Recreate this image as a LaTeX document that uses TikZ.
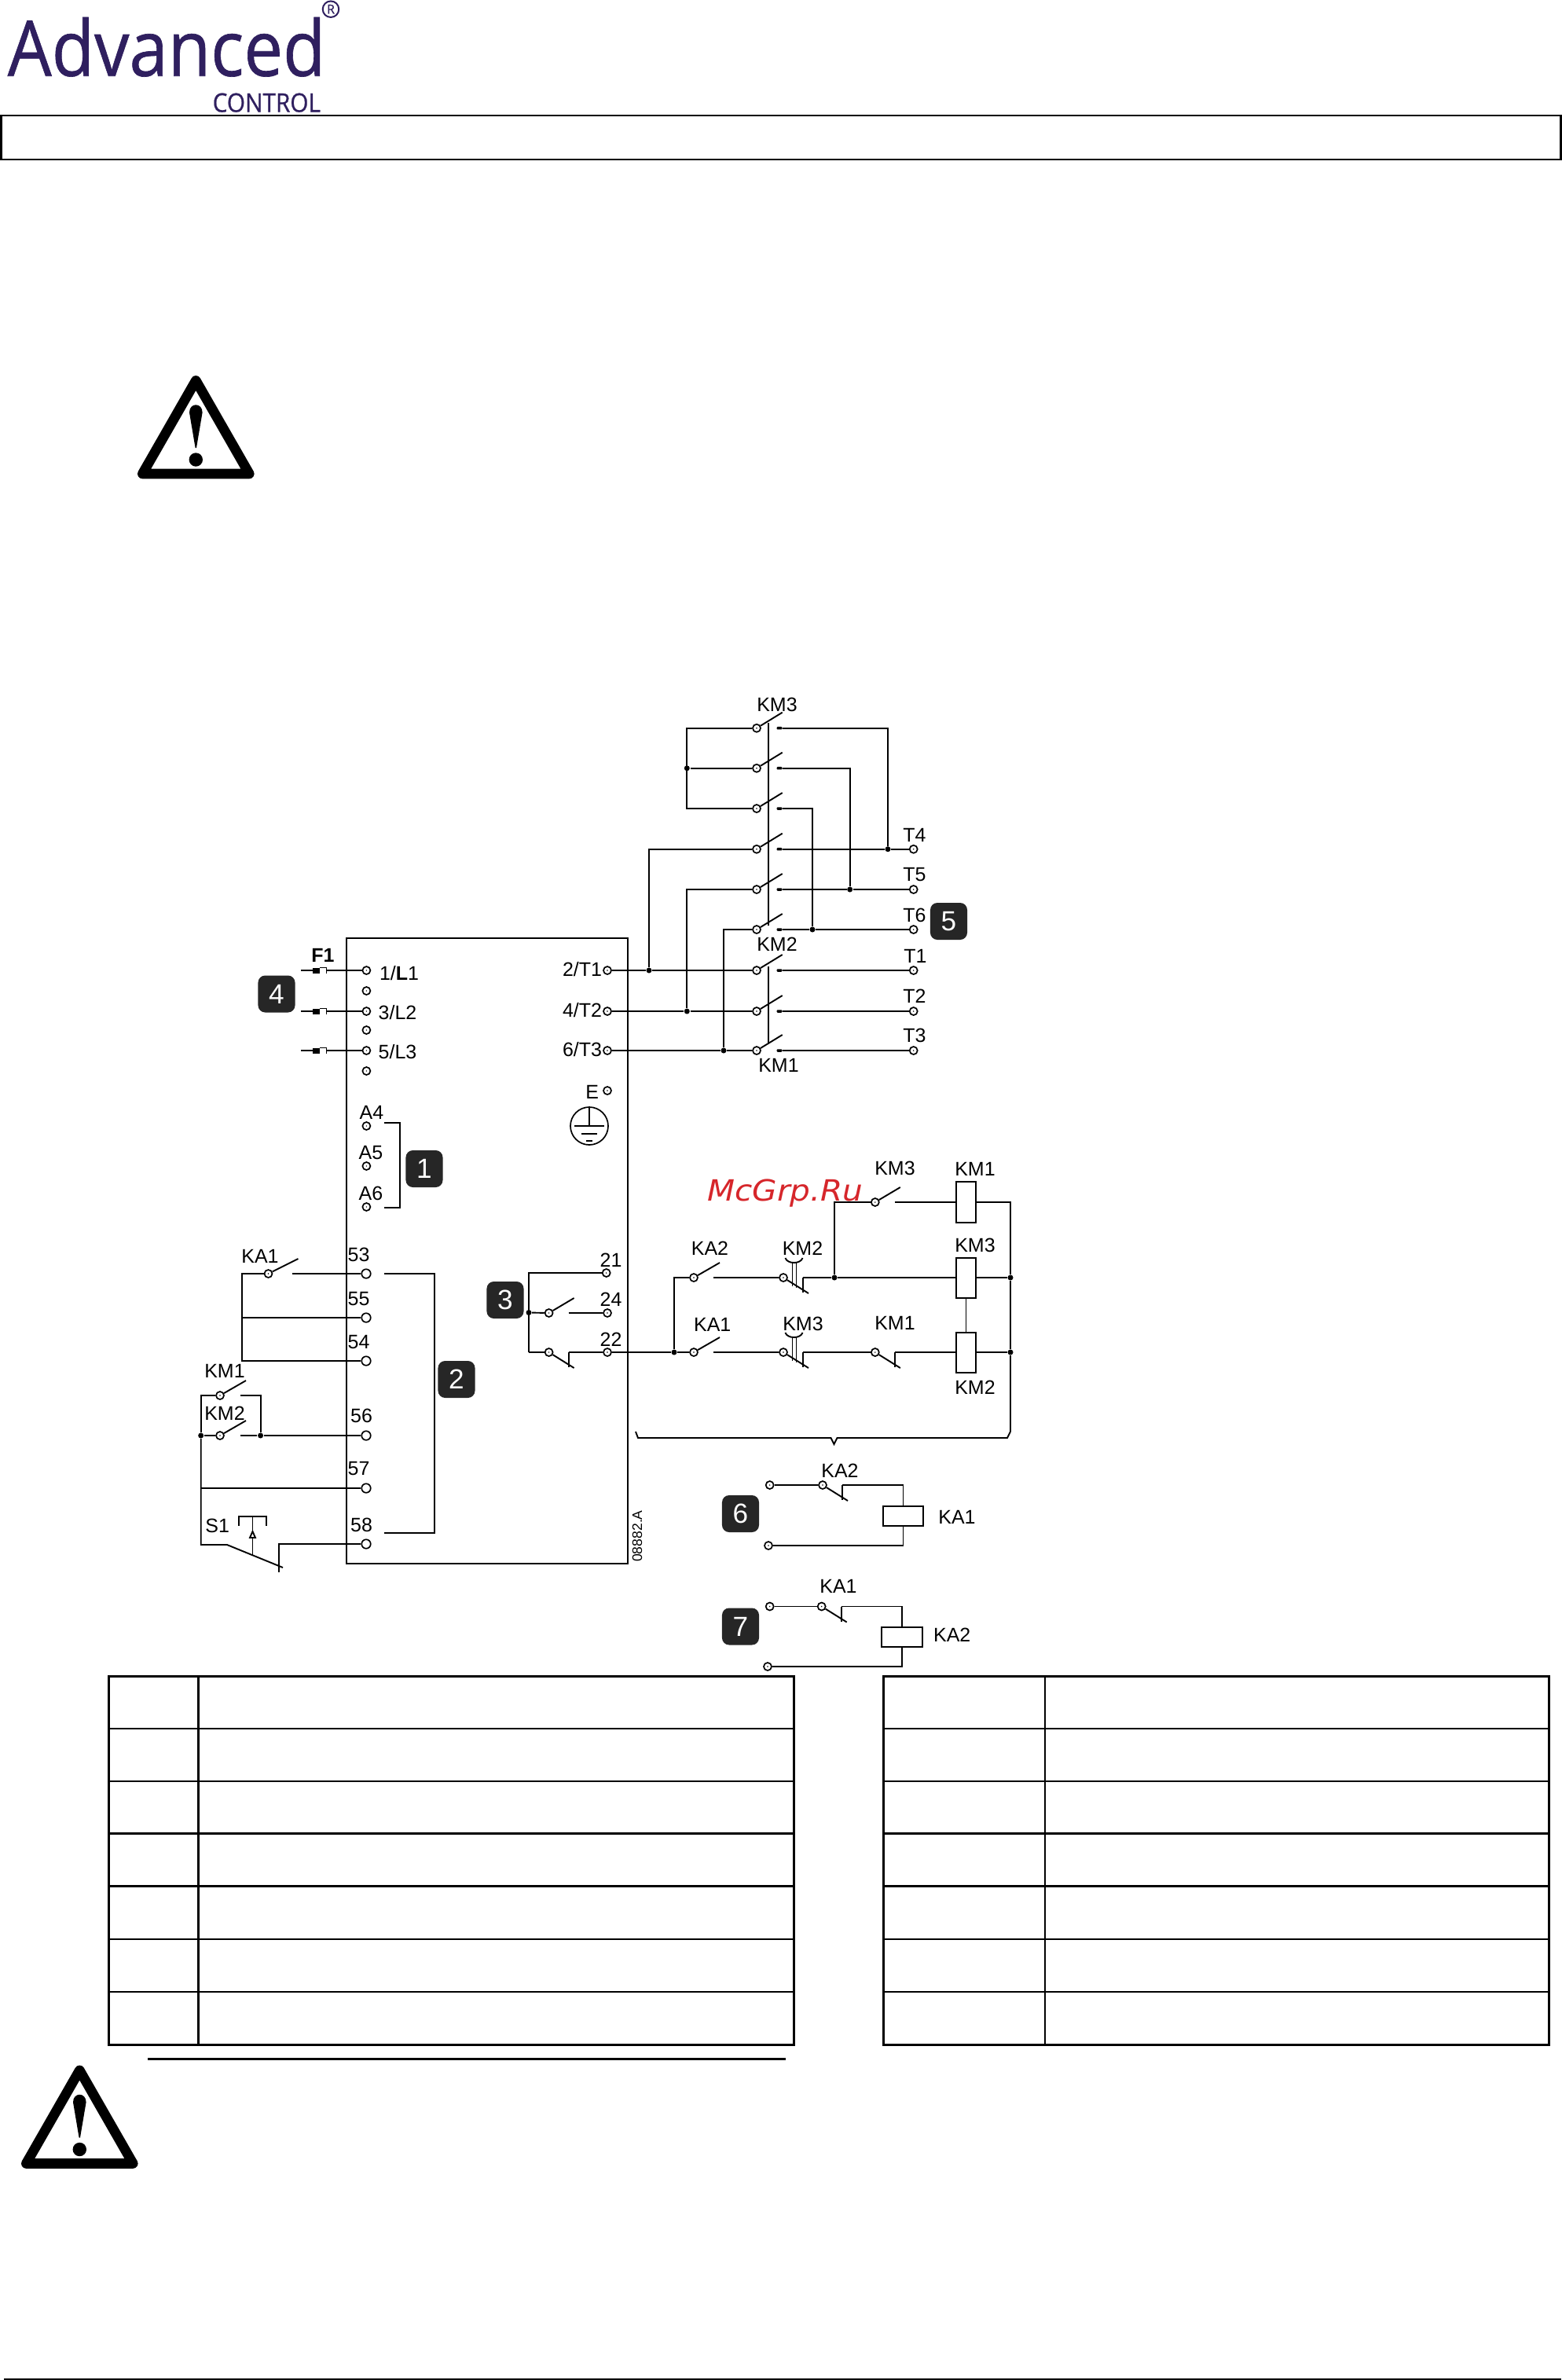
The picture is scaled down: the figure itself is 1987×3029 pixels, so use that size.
\documentclass[tikz,border=0pt]{standalone}
\usepackage{fontspec}
\usepackage{graphicx}
\setmainfont{Liberation Sans}
\newfontfamily\logofont[FakeBold=0.7]{Open Sans}
\newfontfamily\wmfont{DejaVu Sans}
\definecolor{logocol}{HTML}{2F1F5F}
\definecolor{badgecol}{HTML}{262626}
\definecolor{wmcol}{HTML}{D6262B}
\tikzset{
  wire/.style={draw=black,line width=0.019cm},
  term/.style={circle,draw=black,fill=white,line width=0.017cm,minimum size=0.1cm,inner sep=0pt,
    path picture={\fill[black] (path picture bounding box.center) circle[radius=0.008cm];}},
  termb/.style={circle,draw=black,fill=white,line width=0.017cm,minimum size=0.115cm,inner sep=0pt},
  fixc/.style={rectangle,fill=black,minimum width=0.07cm,minimum height=0.035cm,inner sep=0pt,rounded corners=0.012cm},
  jdot/.style={circle,fill=black,minimum size=0.07cm,inner sep=0pt},
  coilv/.style={rectangle,draw=black,fill=white,line width=0.02cm,minimum width=0.25cm,inner sep=0pt},
  coilh/.style={rectangle,draw=black,fill=white,line width=0.02cm,minimum width=0.515cm,minimum height=0.25cm,inner sep=0pt},
  lab/.style={font=\fontsize{7.1}{8}\selectfont,inner sep=0pt},
  badge/.style={rectangle,rounded corners=0.09cm,fill=badgecol,text=white,minimum width=0.47cm,minimum height=0.47cm,inner sep=0pt,font=\fontsize{10}{12}\selectfont},
  tab/.style={draw=black,line width=0.025cm},
  tabo/.style={draw=black,line width=0.03cm},
}
\newcommand{\lab}[4]{\node[lab] (#1) at (#2,#3) {#4};}
\newcommand{\tm}[3]{\node[term] (#1) at (#2,#3) {};}
\newcommand{\tb}[3]{\node[termb] (#1) at (#2,#3) {};}
% upper contactor row: name, y
\newcommand{\upsw}[2]{%
  \node[term] (#1c) at (963,#2) {};
  \node[fixc] (#1f) at (992,#2) {};
  \coordinate (#1a) at (995.7,{#2-20});
  \draw[wire] (#1c) -- (#1a);}
% normally open: name, x, y, dx of arm, offset of right wire
\newcommand{\nosw}[5]{%
  \node[term] (#1) at (#2,#3) {};
  \coordinate (#1a) at ({#2+#4},{#3-19});
  \coordinate (#1r) at ({#2+#5},#3);
  \draw[wire] (#1) -- (#1a);}
% normally closed: name, x, y
\newcommand{\ncsw}[3]{%
  \node[term] (#1) at (#2,#3) {};
  \coordinate (#1a) at ({#2+32},{#3+20});
  \coordinate (#1r) at ({#2+25},#3);
  \coordinate (#1b) at ({#2+25},{#3+19});
  \draw[wire] (#1) -- (#1a);
  \draw[wire] (#1r) -- (#1b);}
% mechanical link above an NC contact: x, y
\newcommand{\mech}[2]{%
  \draw[wire] ({#1+11.5},{#2-20}) -- ({#1+11.5},{#2+11});
  \draw[wire] ({#1+16.5},{#2-20}) -- ({#1+16.5},{#2+13});
  \draw[wire] ({#1+2.5},{#2-25}) .. controls ({#1+5},{#2-17}) and ({#1+22},{#2-17}) .. ({#1+24.5},{#2-25});}
% fuse: name, y, terminal
\newcommand{\fusesym}[3]{%
  \coordinate (#1l) at (383,#2);
  \node[rectangle,fill=black,minimum width=0.085cm,minimum height=0.07cm,inner sep=0pt] (#1s) at (402.5,#2) {};
  \coordinate (#1e) at (415.5,#2);
  \draw[wire] (#1l) -- (#1s);
  \draw[wire] (#1e) -- (#3);
  \draw[wire] (407,{#2-3.5}) -- (415.5,{#2-3.5}) -- (415.5,{#2+3.5});}
\newcommand{\warntri}{%
  \draw[line width=0.126cm,line join=round,fill=white] (249.3,484.3) -- (181.3,603) -- (317.3,603) -- cycle;
  \fill[black] (241,525) .. controls (241,512) and (257.6,512) .. (257.6,525) -- (250,570) -- (248.6,570) -- cycle;
  \fill[black] (249.3,585) circle[radius=8.7];}
\begin{document}
\begin{tikzpicture}[x=0.01cm,y=-0.01cm]
\useasboundingbox (0,0) rectangle (1987,3029);
% logo
\node[anchor=base west,inner sep=0pt,text=logocol,font=\logofont\fontsize{28}{30}\selectfont] (logoA) at (9,96.7) {\scalebox{0.9}[1]{Advanced}};
\node[anchor=base west,inner sep=0pt,text=logocol,font=\logofont\fontsize{9.4}{11}\selectfont] (logoC) at (270,142.5) {\scalebox{0.9}[1]{CONTROL}};
\node[circle,draw=logocol,line width=0.02cm,minimum size=0.205cm,inner sep=0pt,text=logocol,font=\logofont\fontsize{4.6}{5}\selectfont] (logoR) at (421,11.7) {R};
% header box and rules
\node[rectangle,draw=black,line width=0.023cm,minimum width=19.84cm,minimum height=0.56cm,inner sep=0pt] (hdr) at (994,175) {};
\coordinate (rulea) at (188,2620); \coordinate (ruleb) at (1000,2620);
\draw[line width=0.03cm] (rulea) -- (ruleb);
\coordinate (rulec) at (5,3028); \coordinate (ruled) at (1987,3028);
\draw[line width=0.022cm] (rulec) -- (ruled);
% warnings
\warntri
\begin{scope}[shift={(-148,2150.5)}]\warntri\end{scope}
% tables
\foreach \yy in {2200,2267,2333.5,2400.5,2468,2535}{
  \draw[tab] (138.3,\yy) -- (1010.7,\yy);
  \draw[tab] (1124.7,\yy) -- (1971.3,\yy);}
\draw[tab] (252.3,2133) -- (252.3,2602);
\draw[line width=0.02cm] (1330,2133) -- (1330,2602);
\draw[tabo] (138.3,2133) rectangle (1010.7,2602);
\draw[tabo] (1124.7,2133) rectangle (1971.3,2602);
% drive box
\node[rectangle,draw=black,line width=0.02cm,minimum width=3.58cm,minimum height=7.96cm,inner sep=0pt] (drive) at (620,1592) {};
% drive terminals
\tm{tLa}{466.4}{1235}\tm{tBa}{466.4}{1261}\tm{tLb}{466.4}{1287}\tm{tBb}{466.4}{1311}\tm{tLc}{466.4}{1337}\tm{tBc}{466.4}{1363}
\tm{tAd}{466.4}{1433}\tm{tAe}{466.4}{1484}\tm{tAf}{466.4}{1536}
\tb{tft}{466}{1621}\tb{tff}{466}{1677}\tb{tfo}{466}{1732}\tb{tfs}{466}{1827}\tb{tfv}{466}{1894}\tb{tfe}{466}{1965}
\tm{tTa}{773}{1235}\tm{tTb}{773}{1287}\tm{tTc}{773}{1337}\tm{tE}{773}{1388}
\tm{tra}{771.7}{1620}\tm{trb}{773}{1671}\tm{trc}{773}{1721}
% drive labels
\lab{lFa}{411}{1216}{\textbf{F1}}
\lab{lLa}{508}{1239}{1/\textbf{L}1}\lab{lLb}{506}{1289}{3/L2}\lab{lLc}{506}{1339}{5/L3}
\lab{lTa}{741}{1234}{2/T1}\lab{lTb}{741}{1286}{4/T2}\lab{lTc}{741}{1336}{6/T3}
\lab{lE}{753.6}{1390}{E}
\lab{lAd}{473}{1416}{A4}\lab{lAe}{472}{1467}{A5}\lab{lAf}{472}{1519}{A6}
\lab{lft}{456.6}{1597}{53}\lab{lff}{456.6}{1653}{55}\lab{lfo}{456.6}{1708}{54}\lab{lfs}{460}{1802}{56}\lab{lfv}{456.6}{1869}{57}\lab{lfe}{460}{1941}{58}
\lab{lra}{777.6}{1604}{21}\lab{lrb}{777.6}{1654}{24}\lab{lrc}{777.6}{1705}{22}
\node[inner sep=0pt,rotate=90,font=\fontsize{5}{6}\selectfont] (lcode) at (811,1955) {08882.A};
% earth
\node[circle,draw=black,line width=0.017cm,minimum size=0.48cm,inner sep=0pt] (earth) at (750,1433) {};
\draw[wire] (earth.north) -- (earth.center);
\draw[wire] (earth.center) ++(-19,0) -- ++(38,0);
\draw[wire] (earth.center) ++(-10,10) -- ++(20,0);
\draw[wire] (earth.center) ++(-4,19) -- ++(8,0);
% fuses
\fusesym{fa}{1235}{tLa}\fusesym{fb}{1287}{tLb}\fusesym{fc}{1337}{tLc}
% bracket 1
\coordinate (bra) at (489,1429); \coordinate (brb) at (509,1429); \coordinate (brc) at (509,1537); \coordinate (brd) at (489,1537);
\draw[wire] (bra) -- (brb) -- (brc) -- (brd);
% badges
\node[badge] (bfour) at (352,1265) {4};
\node[badge] (bone) at (540,1487.5) {1};
\node[badge] (bthree) at (643,1654.5) {3};
\node[badge] (btwo) at (581,1755.5) {2};
\node[badge] (bfive) at (1207.5,1172.5) {5};
\node[badge] (bsix) at (942.5,1926.5) {6};
\node[badge] (bseven) at (942.5,2070) {7};
% control wiring left
\nosw{kau}{341.5}{1621}{38}{30}
\lab{lkau}{331}{1599}{KA1}
\coordinate (wla) at (308,1621);
\draw[wire] (kau) -- (wla) -- (wla |- tfo) -- (tfo);
\draw[wire] (wla |- tff) -- (tff);
\draw[wire] (kaur) -- (tft);
\coordinate (brf) at (489,1621); \coordinate (brg) at (552.6,1621); \coordinate (brh) at (552.6,1951); \coordinate (bri) at (489,1951);
\draw[wire] (brf) -- (brg) -- (brh) -- (bri);
\nosw{kmu}{280}{1776}{33}{26}
\nosw{kmv}{280}{1827}{33}{26}
\lab{lkmu}{286}{1745}{KM1}\lab{lkmv}{286}{1799}{KM2}
\node[jdot] (jka) at (255.7,1827) {};
\node[jdot] (jkb) at (331.6,1827) {};
\coordinate (wku) at (255.7,1776); \coordinate (wkv) at (331.6,1776);
\draw[wire] (jka) -- (wku) -- (kmu);
\draw[wire] (kmur) -- (wkv) -- (jkb);
\draw[wire] (jka) -- (kmv);
\draw[wire] (kmvr) -- (jkb) -- (tfs);
\draw[wire] (jka |- tfv) -- (tfv);
\lab{lsa}{276.7}{1941.7}{S1}
\coordinate (sa) at (255.7,1966); \coordinate (sb) at (289,1966); \coordinate (sc) at (360,1995); \coordinate (sd) at (355,2001); \coordinate (se) at (355,1965);
\draw[wire] (jka) -- (sa) -- (sb) -- (sc);
\draw[wire] (sd) -- (se) -- (tfe);
\coordinate (sf) at (304,1942); \coordinate (sg) at (304,1930); \coordinate (sh) at (339,1930); \coordinate (si) at (339,1942);
\draw[wire] (sf) -- (sg) -- (sh) -- (si);
\coordinate (sj) at (321.5,1930); \coordinate (sk) at (321.5,1980);
\draw[wire] (sj) -- (sk);
\draw[wire,fill=white] (318,1957) -- (321.5,1949) -- (325,1957) -- cycle;
% relay outputs
\node[jdot] (jra) at (673,1670.5) {};
\coordinate (wra) at (673,1621); \coordinate (wrb) at (673,1721);
\draw[wire] (tra) -- (wra |- tra) -- (wrb);
\nosw{crb}{698.6}{1671}{32}{25}
\ncsw{crc}{698.6}{1721}
\draw[wire] (wrb) -- (crc);
\draw[wire] (jra) -- (crb);
\draw[wire] (crbr) -- (trb);
\draw[wire] (crcr) -- (trc);
% upper contactors
\upsw{ra}{926.7}\upsw{rb}{977.7}\upsw{rc}{1029}\upsw{rd}{1080.7}\upsw{re}{1132}\upsw{rf}{1183}\upsw{rg}{1235}\upsw{rh}{1287}\upsw{ri}{1337}
\coordinate (cpa) at (978,920); \coordinate (cpb) at (978,1178); \coordinate (cpc) at (978,1230); \coordinate (cpd) at (978,1327);
\draw[wire] (cpa) -- (cpb); \draw[wire] (cpc) -- (cpd);
\lab{lkmt}{989}{897}{KM3}\lab{lkmb}{989}{1202}{KM2}\lab{lkma}{991}{1356}{KM1}
\tm{tfour}{1162.7}{1080.7}\tm{tfive}{1162.7}{1132}\tm{tsix}{1162.7}{1183}\tm{tUa}{1162.7}{1235}\tm{tUb}{1162.7}{1287}\tm{tUc}{1162.7}{1337}
\lab{lfour}{1164}{1063}{T4}\lab{lfive}{1164}{1113}{T5}\lab{lsix}{1164}{1165}{T6}\lab{lUa}{1165}{1217}{T1}\lab{lUb}{1164}{1268}{T2}\lab{lUc}{1164}{1318}{T3}
\node[jdot] (jb) at (874.3,977.7) {};
\coordinate (wa) at (874.3,926.7); \coordinate (wc) at (874.3,1029);
\draw[wire] (rac) -- (wa) -- (wc) -- (rcc);
\draw[wire] (jb) -- (rbc);
\node[jdot] (jf) at (1130,1080.7) {};
\node[jdot] (jg) at (1081.7,1132) {};
\node[jdot] (jh) at (1034,1183) {};
\coordinate (xa) at (1130,926.7); \coordinate (xb) at (1081.7,977.7); \coordinate (xc) at (1034,1029);
\draw[wire] (raf) -- (xa) -- (jf);
\draw[wire] (rbf) -- (xb) -- (jg);
\draw[wire] (rcf) -- (xc) -- (jh);
\draw[wire] (rdf) -- (jf) -- (tfour);
\draw[wire] (ref) -- (jg) -- (tfive);
\draw[wire] (rff) -- (jh) -- (tsix);
\draw[wire] (rgf) -- (tUa); \draw[wire] (rhf) -- (tUb); \draw[wire] (rif) -- (tUc);
\node[jdot] (ja) at (826,1235) {};
\node[jdot] (jc) at (874.3,1287) {};
\node[jdot] (jd) at (921,1337) {};
\coordinate (ya) at (826,1080.7); \coordinate (yb) at (874.3,1132); \coordinate (yc) at (921,1183);
\draw[wire] (tTa) -- (ja) -- (rgc);
\draw[wire] (ja) -- (ya) -- (rdc);
\draw[wire] (tTb) -- (jc) -- (rhc);
\draw[wire] (jc) -- (yb) -- (rec);
\draw[wire] (tTc) -- (jd) -- (ric);
\draw[wire] (jd) -- (yc) -- (rfc);
% control circuit right
\node[coilv,minimum height=0.52cm] (coila) at (1229.5,1530) {};
\node[coilv,minimum height=0.51cm] (coilc) at (1229.5,1626) {};
\node[coilv,minimum height=0.51cm] (coilb) at (1229.5,1721) {};
\lab{lcoa}{1241}{1488}{KM1}\lab{lcoc}{1241}{1585}{KM3}\lab{lcob}{1241}{1766}{KM2}
\node[jdot] (jm) at (858,1721) {};
\node[jdot] (jn) at (1062,1626) {};
\node[jdot] (jo) at (1286,1626) {};
\node[jdot] (jp) at (1286,1721) {};
\nosw{kaa}{883}{1626}{33}{25}
\nosw{kab}{883}{1721}{33}{25}
\ncsw{kmn}{997}{1626}
\ncsw{kmm}{997}{1721}
\mech{997}{1626}\mech{997}{1721}
\ncsw{kmo}{1113.8}{1721}
\nosw{kmt}{1113.8}{1530}{32}{25}
\lab{lkaa}{903.5}{1589}{KA2}\lab{lkab}{906.7}{1686}{KA1}
\lab{lkmn}{1021.5}{1589}{KM2}\lab{lkmm}{1022}{1685}{KM3}\lab{lkmo}{1139}{1684}{KM1}\lab{lkmtt}{1139}{1487}{KM3}
\draw[wire] (trc) -- (jm) -- (kab);
\draw[wire] (kabr) -- (kmm);
\draw[wire] (kmmr) -- (kmo);
\draw[wire] (kmor) -- (coilb);
\draw[wire] (coilb) -- (jp);
\coordinate (wm) at (858,1626);
\draw[wire] (jm) -- (wm) -- (kaa);
\draw[wire] (kaar) -- (kmn);
\draw[wire] (kmnr) -- (jn) -- (coilc);
\draw[wire] (coilc) -- (jo);
\coordinate (wn) at (1062,1530); \coordinate (wo) at (1286,1530); \coordinate (wp) at (1286,1822);
\draw[wire] (jn) -- (wn) -- (kmt);
\draw[wire] (kmtr) -- (coila);
\draw[wire] (coila) -- (wo) -- (jo) -- (jp) -- (wp);
\draw[wire] (coilc) -- (coilb);
% brace
\coordinate (bza) at (809,1822); \coordinate (bzb) at (812,1830); \coordinate (bzc) at (1057.5,1830); \coordinate (bzd) at (1061.5,1838); \coordinate (bze) at (1065.5,1830); \coordinate (bzf) at (1282,1830);
\draw[wire] (bza) -- (bzb) -- (bzc) -- (bzd) -- (bze) -- (bzf) -- (wp);
% block 6
\tm{tsa}{979.7}{1890}\tm{tsb}{978}{1967}
\ncsw{csx}{1047}{1890}
\node[coilh] (coilx) at (1149.5,1929.5) {};
\lab{lsx}{1069}{1872}{KA2}\lab{lcx}{1218}{1931}{KA1}
\draw[wire] (tsa) -- (csx);
\draw[wire] (csxr) -- (csxr -| coilx) -- (coilx);
\draw[wire] (coilx) -- (coilx |- tsb) -- (tsb);
% block 7
\tm{tva}{979.7}{2044.5}\tm{tvb}{977}{2121}
\ncsw{cvx}{1045.7}{2044.5}
\node[coilh] (coily) at (1147.9,2083.4) {};
\lab{lvx}{1067}{2019}{KA1}\lab{lcy}{1211.7}{2080.7}{KA2}
\draw[wire] (tva) -- (cvx);
\draw[wire] (cvxr) -- (cvxr -| coily) -- (coily);
\draw[wire] (coily) -- (coily |- tvb) -- (tvb);
% watermark
\node[anchor=base,inner sep=0pt,text=wmcol,font=\wmfont\itshape\fontsize{10.6}{12}\selectfont] (wmark) at (999.5,1528) {\scalebox{1.09}[1]{McGrp.Ru}};
\end{tikzpicture}
\end{document}
